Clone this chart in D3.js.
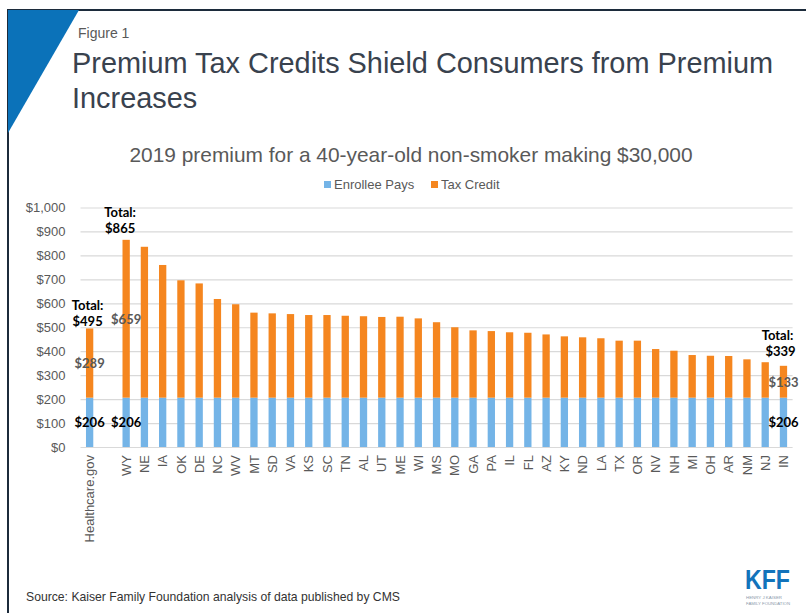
<!DOCTYPE html>
<html><head><meta charset="utf-8">
<script src="https://cdn.jsdelivr.net/npm/d3@7"></script>
<style>
html,body{margin:0;padding:0;background:#fff;}
svg{display:block;}
</style></head>
<body>
<svg id="chart" width="806" height="613"></svg>
<script>
const categories = ["Healthcare.gov","","WY","NE","IA","OK","DE","NC","WV","MT","SD","VA","KS","SC","TN","AL","UT","ME","WI","MS","MO","GA","PA","IL","FL","AZ","KY","ND","LA","TX","OR","NV","NH","MI","OH","AR","NM","NJ","IN"];
const enrolleePays = [206,null,206,206,206,206,206,206,206,206,206,206,206,206,206,206,206,206,206,206,206,206,206,206,206,206,206,206,206,206,206,206,206,206,206,206,206,206,206];
const taxCredit = [289,null,659,630,554,490,477,412,390,355,352,349,345,345,342,340,337,338,331,315,294,281,278,273,271,264,256,252,248,238,238,203,196,178,175,174,160,148,133];
const yTicks = [0,100,200,300,400,500,600,700,800,900,1000];
const seriesNames = ["Enrollee Pays","Tax Credit"];
const seriesColors = ["#74b4e7","#f5861f"];

const svg = d3.select("#chart");
const grayText = "#595959";
const sans = "Liberation Sans, Arial, sans-serif";

// frame
svg.append("line").attr("x1",8).attr("x2",806).attr("y1",10).attr("y2",10).attr("stroke","#1c2b3b").attr("stroke-width",2);
svg.append("line").attr("x1",8).attr("x2",8).attr("y1",9).attr("y2",613).attr("stroke","#1c2b3b").attr("stroke-width",2);
svg.append("path").attr("d","M8,10 L79,10 L8,133 Z").attr("fill","#0b72b9");

// titles
svg.append("text").attr("x",78).attr("y",38).attr("font-family",sans).attr("font-size",14).attr("fill",grayText).text("Figure 1");
svg.append("text").attr("x",72).attr("y",73).attr("font-family",sans).attr("font-size",28.9).attr("fill","#39424e").text("Premium Tax Credits Shield Consumers from Premium");
svg.append("text").attr("x",72).attr("y",108).attr("font-family",sans).attr("font-size",28.9).attr("fill","#39424e").text("Increases");
svg.append("text").attr("x",411).attr("y",162).attr("text-anchor","middle").attr("font-family",sans).attr("font-size",20.9).attr("fill",grayText).text("2019 premium for a 40-year-old non-smoker making $30,000");

// legend
const legX = [324, 431];
seriesNames.forEach((n,i)=>{
  svg.append("rect").attr("x",legX[i]).attr("y",181).attr("width",7).attr("height",7).attr("fill",seriesColors[i]);
  svg.append("text").attr("x",legX[i]+10).attr("y",189).attr("font-family",sans).attr("font-size",13).attr("fill",grayText).text(n);
});

// scales
const plotL = 80.5, plotR = 792.6;
const x = d3.scaleBand().domain(d3.range(categories.length)).range([plotL, plotR]).paddingInner(0.6).paddingOuter(0.3);
const y = d3.scaleLinear().domain([0,1000]).range([447,207.5]);

// grid + y axis
const yAxis = d3.axisLeft(y).tickValues(yTicks).tickSize(-(plotR-plotL)).tickFormat(d=>d3.format("$,")(d)).tickPadding(15);
const gy = svg.append("g").attr("transform",`translate(${plotL},0)`).call(yAxis);
gy.select(".domain").remove();
gy.selectAll(".tick line").attr("stroke","#d9d9d9").attr("stroke-width",1.2);
gy.selectAll(".tick text").attr("font-family",sans).attr("font-size",13).attr("fill",grayText);

// bars
const data = categories.map((c,i)=>({i, c, a: enrolleePays[i], b: taxCredit[i]})).filter(d=>d.a!=null);
const g = svg.append("g");
g.selectAll("rect.ep").data(data).join("rect").attr("class","ep")
  .attr("x",d=>x(d.i)).attr("width",x.bandwidth())
  .attr("y",d=>y(d.a)).attr("height",d=>y(0)-y(d.a)).attr("fill",seriesColors[0]);
g.selectAll("rect.tc").data(data).join("rect").attr("class","tc")
  .attr("x",d=>x(d.i)).attr("width",x.bandwidth())
  .attr("y",d=>y(d.a+d.b)).attr("height",d=>y(d.a)-y(d.a+d.b)).attr("fill",seriesColors[1]);

// x axis
const xAxis = d3.axisBottom(x).tickSize(0).tickFormat(i=>categories[i]).tickPadding(0);
const gx = svg.append("g").attr("transform",`translate(0,${y(0)})`).call(xAxis);
gx.select(".domain").remove();
gx.selectAll(".tick text")
  .attr("font-family",sans).attr("font-size",13).attr("fill",grayText)
  .attr("text-anchor","end").attr("transform","rotate(-90)").attr("x",-8).attr("y",0).attr("dy","0.36em");

// annotations
const lblFont = "Lato, 'Open Sans', sans-serif";
function lbl(xx, yy, t, col, anchor){
  svg.append("text").attr("x",xx).attr("y",yy).attr("text-anchor",anchor||"middle")
    .attr("font-family",lblFont).attr("font-weight","bold").attr("font-size",13).attr("fill",col).text(t);
}
const cx = i => x(i) + x.bandwidth()/2;
const totalOf = i => enrolleePays[i] + taxCredit[i];
const fmt = v => "$" + v;
const last = categories.length - 1;
// Healthcare.gov
lbl(cx(0)-2, y(totalOf(0))-18, "Total:", "#000");
lbl(cx(0)-2, y(totalOf(0))-2, fmt(totalOf(0)), "#000");
lbl(cx(0), y(enrolleePays[0]+taxCredit[0]/2)+5, fmt(taxCredit[0]), grayText);
lbl(cx(0), y(enrolleePays[0]/2)+5, fmt(enrolleePays[0]), "#000");
// WY
lbl(cx(2)-6, y(totalOf(2))-23, "Total:", "#000");
lbl(cx(2)-6, y(totalOf(2))-7, fmt(totalOf(2)), "#000");
lbl(cx(2), y(enrolleePays[2]+taxCredit[2]/2)+5, fmt(taxCredit[2]), grayText);
lbl(cx(2), y(enrolleePays[2]/2)+5, fmt(enrolleePays[2]), "#000");
// IN
lbl(cx(last)-6, y(totalOf(last))-26, "Total:", "#000");
lbl(cx(last)-3, y(totalOf(last))-10, fmt(totalOf(last)), "#000");
lbl(cx(last), y(enrolleePays[last]+taxCredit[last]/2)+5, fmt(taxCredit[last]), grayText);
lbl(cx(last), y(enrolleePays[last]/2)+5, fmt(enrolleePays[last]), "#000");

// source
svg.append("text").attr("x",26).attr("y",601).attr("font-family",sans).attr("font-size",12.2).attr("fill","#333").text("Source: Kaiser Family Foundation analysis of data published by CMS");

// logo
svg.append("text").attr("x",745).attr("y",589).attr("font-family",sans).attr("font-weight","bold").attr("font-size",27).attr("fill","#1273bb").attr("textLength",45).attr("lengthAdjust","spacingAndGlyphs").text("KFF");
svg.append("text").attr("x",746).attr("y",599).attr("font-family",sans).attr("font-size",4).attr("fill","#8a9aab").attr("textLength",36).attr("lengthAdjust","spacingAndGlyphs").text("HENRY J KAISER");
svg.append("text").attr("x",746).attr("y",605).attr("font-family",sans).attr("font-size",4).attr("fill","#8a9aab").attr("textLength",44).attr("lengthAdjust","spacingAndGlyphs").text("FAMILY FOUNDATION");
</script>
</body></html>
